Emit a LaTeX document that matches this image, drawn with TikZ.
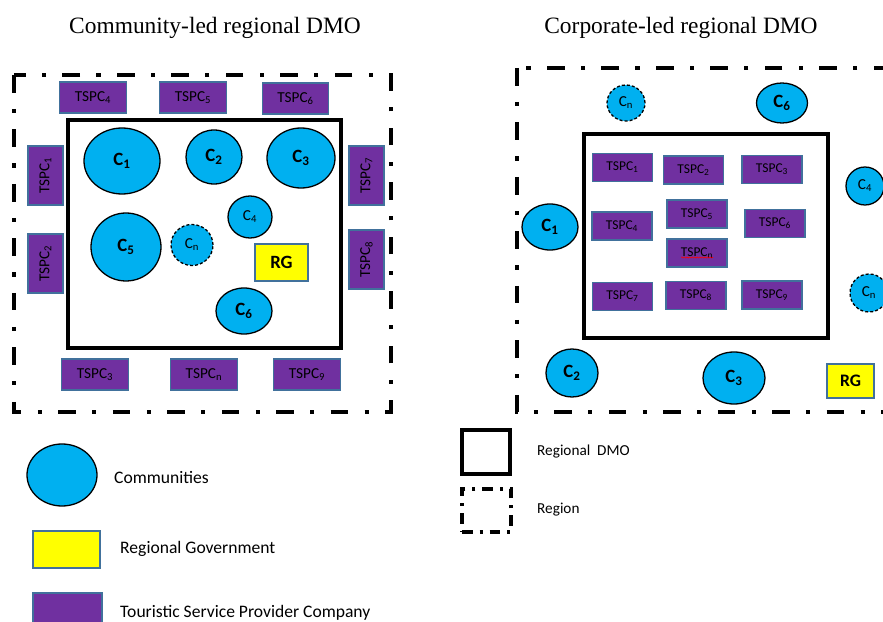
\documentclass[tikz,border=0pt]{standalone}
\usepackage{fontspec}
\setmainfont{Carlito}
\newfontfamily\titlefont{Liberation Serif}
\usepackage{xcolor}
\usepackage{tikz}
\usetikzlibrary{shapes.geometric, positioning, calc, decorations.pathmorphing}

\definecolor{commblue}{HTML}{00B0F0}
\definecolor{tspcpurple}{HTML}{7030A0}
\definecolor{boxedge}{HTML}{41719C}
\definecolor{rgyellow}{HTML}{FFFF00}

\tikzset{
  title/.style={font=\titlefont\fontsize{20}{24}\selectfont},
  tspc/.style={draw=boxedge, fill=tspcpurple, text=black, line width=0.9pt, inner sep=0pt,
               minimum width=2.0cm, minimum height=0.93cm, font=\fontsize{13}{15}\selectfont},
  tspcv/.style={tspc, rotate=90, minimum width=1.77cm, minimum height=1.05cm},
  tspcs/.style={tspc, minimum width=1.8cm, minimum height=0.84cm, font=\fontsize{11.5}{13}\selectfont},
  comm/.style={ellipse, draw, fill=commblue, text=black, line width=1.1pt, inner sep=0pt,
               font=\bfseries\fontsize{16}{18}\selectfont},
  commsm/.style={comm, font=\fontsize{13}{15}\selectfont},
  commn/.style={commsm, dash pattern=on 2.5pt off 1.8pt},
  rg/.style={draw=boxedge, fill=rgyellow, text=black, line width=0.9pt, inner sep=0pt,
             font=\bfseries\fontsize{16}{18}\selectfont},
  dmo/.style={draw, line width=2.6pt},
  region/.style={draw, line width=3.4pt, dash pattern=on 15pt off 14pt on 3.5pt off 14pt},
  legtext/.style={anchor=west, inner sep=0pt, font=\fontsize{15}{18}\selectfont},
}

\begin{document}
\begin{tikzpicture}[x=0.03cm, y=-0.03cm]
  \useasboundingbox (0,0) rectangle (883,622);
  \clip (0,0) rectangle (883,622);

  % titles
  \node[title] (t1) at (215,28) {Community-led regional DMO};
  \node[title] (t2) at (681,28) {Corporate-led regional DMO};

  % community-led: region and DMO
  \draw[region] (14,75) rectangle (391,412);
  \draw[dmo] (68,120) rectangle (341,348);

  % companies round the DMO
  \node[tspc] (l4) at (93,97.5) {TSPC\textsubscript{4}};
  \node[tspc] (l5) at (193,97.5) {TSPC\textsubscript{5}};
  \node[tspc] (l6) at (295.5,98.5) {TSPC\textsubscript{6}};
  \node[tspc] (l3) at (95,374.5) {TSPC\textsubscript{3}};
  \node[tspc] (ln) at (204,374.5) {TSPC\textsubscript{n}};
  \node[tspc] (l9) at (307,374.5) {TSPC\textsubscript{9}};
  \node[tspcv] (l1) at (45.5,175.5) {TSPC\textsubscript{1}};
  \node[tspcv] (l2) at (45.5,263.5) {TSPC\textsubscript{2}};
  \node[tspcv] (l7) at (366.5,175.5) {TSPC\textsubscript{7}};
  \node[tspcv] (l8) at (366.5,259.5) {TSPC\textsubscript{8}};

  % communities inside the DMO
  \node[comm, minimum width=2.28cm, minimum height=1.98cm] (lc1) at (122,161) {C\textsubscript{1}};
  \node[comm, minimum width=1.68cm, minimum height=1.62cm] (lc2) at (214,157) {C\textsubscript{2}};
  \node[comm, minimum width=2.04cm, minimum height=1.8cm] (lc3) at (301,158) {C\textsubscript{3}};
  \node[commsm, minimum width=1.32cm, minimum height=1.26cm] (lc4) at (250,217) {C\textsubscript{4}};
  \node[comm, minimum width=2.1cm, minimum height=2.04cm] (lc5) at (126,247) {C\textsubscript{5}};
  \node[commn, minimum width=1.26cm, minimum height=1.23cm] (lcn) at (192,245) {C\textsubscript{n}};
  \node[comm, minimum width=1.68cm, minimum height=1.38cm] (lc6) at (244,311) {C\textsubscript{6}};
  \node[rg, minimum width=1.59cm, minimum height=1.11cm] (lrg) at (281.5,262.5) {RG};

  % corporate-led: region and DMO
  \draw[region] (517,68) rectangle (905,412);
  \draw[dmo] (584,134) rectangle (828,338);

  % companies inside the DMO
  \node[tspcs] (r1) at (622.5,167.5) {TSPC\textsubscript{1}};
  \node[tspcs] (r2) at (693.5,170) {TSPC\textsubscript{2}};
  \node[tspcs] (r3) at (772,169.5) {TSPC\textsubscript{3}};
  \node[tspcs] (r4) at (622,226) {TSPC\textsubscript{4}};
  \node[tspcs] (r5) at (697,214) {TSPC\textsubscript{5}};
  \node[tspcs] (r6) at (775,223.5) {TSPC\textsubscript{6}};
  \node[tspcs] (rn) at (697,253) {TSPC\textsubscript{n}};
  \node[tspcs] (r7) at (622.5,296.5) {TSPC\textsubscript{7}};
  \node[tspcs] (r8) at (696,295.5) {TSPC\textsubscript{8}};
  \node[tspcs] (r9) at (772,295) {TSPC\textsubscript{9}};
  \draw[red, line width=0.5pt, decorate, decoration={snake, amplitude=0.5pt, segment length=2.2pt}]
    ($(rn.center)+(-16,4.5)$) -- ($(rn.center)+(16,4.5)$);

  % communities round the DMO
  \node[commn, minimum width=1.14cm, minimum height=1.08cm] (rcn1) at (626,103) {C\textsubscript{n}};
  \node[comm, minimum width=1.53cm, minimum height=1.2cm] (rc6) at (782,103) {C\textsubscript{6}};
  \node[commsm, minimum width=1.14cm, minimum height=1.14cm] (rc4) at (865,186) {C\textsubscript{4}};
  \node[comm, minimum width=1.68cm, minimum height=1.38cm] (rc1) at (550,227) {C\textsubscript{1}};
  \node[commn, minimum width=1.14cm, minimum height=1.14cm] (rcn2) at (869,293) {C\textsubscript{n}};
  \node[comm, minimum width=1.56cm, minimum height=1.44cm] (rc2) at (572,373) {C\textsubscript{2}};
  \node[comm, minimum width=1.86cm, minimum height=1.56cm] (rc3) at (734,378) {C\textsubscript{3}};
  \node[rg, minimum width=1.41cm, minimum height=1.02cm, font=\bfseries\fontsize{15}{17}\selectfont]
    (rrg) at (850.5,381) {RG};

  % legend
  \node[comm, minimum width=2.1cm, minimum height=1.86cm] (kc) at (62,475) {};
  \node[legtext] (kct) at (114,477) {Communities};
  \node[rg, minimum width=2.01cm, minimum height=1.11cm] (krg) at (66.5,549.5) {};
  \node[legtext] (krgt) at (120,549) {Regional Government};
  \node[tspc, minimum width=2.07cm, minimum height=1.41cm] (kts) at (67.5,616.5) {};
  \node[legtext] (ktst) at (120,613) {Touristic Service Provider Company};
  \node[dmo, minimum width=1.44cm, minimum height=1.32cm] (kdmo) at (486,452) {};
  \node[legtext, font=\fontsize{13}{15}\selectfont] (kdmot) at (537,452) {Regional\ \ DMO};
  \node[draw, line width=2.8pt, dash pattern=on 9pt off 6pt on 2.5pt off 6pt,
        minimum width=1.47cm, minimum height=1.29cm] (kreg) at (486.5,510.5) {};
  \node[legtext, font=\fontsize{13}{15}\selectfont] (kregt) at (537,510) {Region};
\end{tikzpicture}
\end{document}
